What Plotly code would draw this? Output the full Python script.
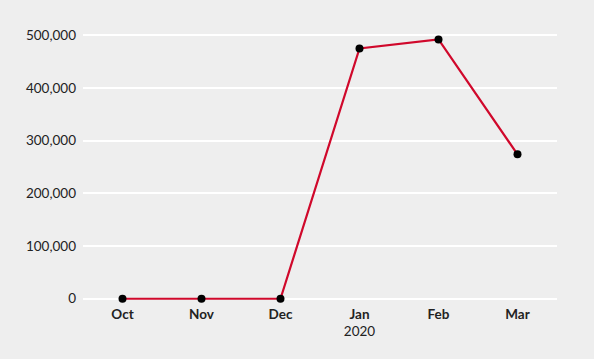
import plotly.graph_objects as go

months = ["Oct", "Nov", "Dec", "Jan", "Feb", "Mar"]
tick_labels = ["<b>Oct</b>", "<b>Nov</b>", "<b>Dec</b>", "<b>Jan</b><br>2020", "<b>Feb</b>", "<b>Mar</b>"]
values = [0, 0, 0, 475000, 492000, 274000]
y_ticks = [0, 100000, 200000, 300000, 400000, 500000]

fig = go.Figure()
fig.add_trace(go.Scatter(
    x=list(range(len(months))), y=values, mode="lines+markers",
    line=dict(color="#d0082b", width=2.2),
    marker=dict(color="#000000", size=8),
    showlegend=False,
))

fig.update_layout(
    width=594, height=359,
    paper_bgcolor="#eeeeee", plot_bgcolor="#eeeeee",
    margin=dict(l=83, r=37, t=30, b=55),
    font=dict(family="Lato, Noto Sans, sans-serif", size=13, color="#222222"),
    xaxis=dict(
        range=[-0.5, 5.5], tickmode="array",
        tickvals=list(range(len(months))), ticktext=tick_labels,
        showgrid=False, zeroline=False, showline=False, ticks="",
        tickfont=dict(size=13.5, color="#222222"),
    ),
    yaxis=dict(
        range=[-10000, 510000], tickmode="array", tickvals=y_ticks,
        ticktext=[f"{v:,}" for v in y_ticks],
        showgrid=True, gridcolor="#ffffff", gridwidth=2,
        zeroline=False, showline=False, ticks="",
        ticklabelstandoff=6,
        tickfont=dict(size=13.5, color="#222222"),
    ),
)

fig.write_html(
    "out.html",
    config={"displayModeBar": False},
    post_script="document.body.style.margin='0';document.body.style.background='#eeeeee';",
)
